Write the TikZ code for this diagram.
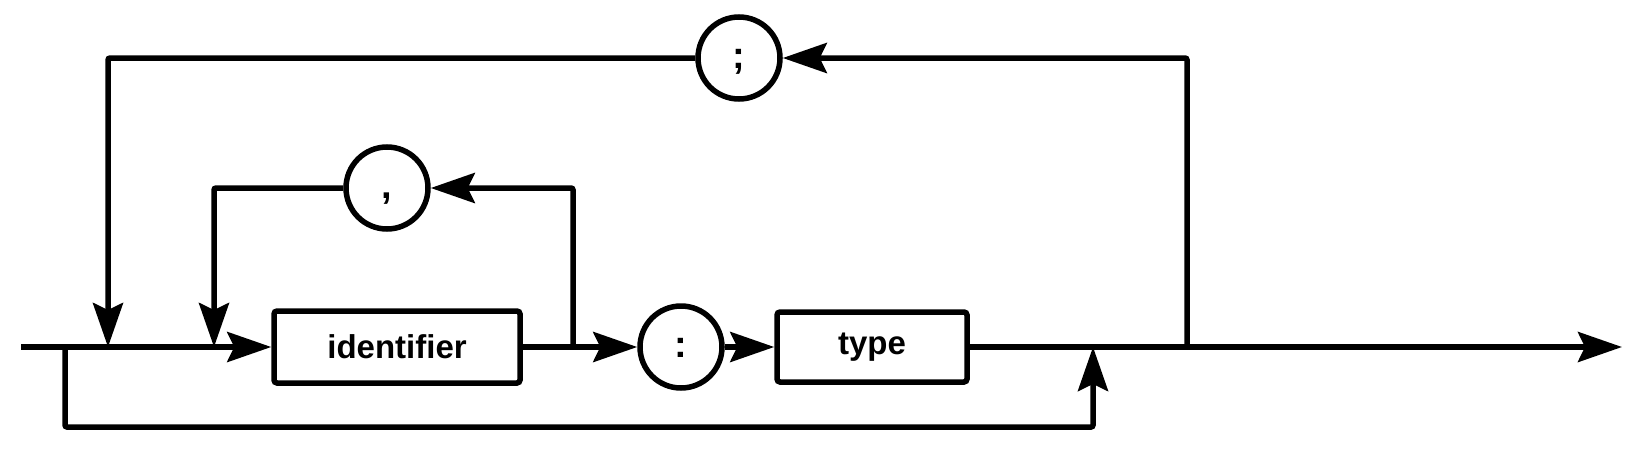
\documentclass[tikz,border=0pt]{standalone}
\usetikzlibrary{arrows.meta}
\usepackage{fontspec}
\setmainfont{Liberation Sans}
\begin{document}
\begin{tikzpicture}[x=1pt,y=-1pt,
  line width=5.5pt,
  arr/.style={-{Stealth[length=44pt,width=30pt,inset=7pt]}},
  boxnode/.style={draw,rounded corners=3pt,inner sep=0pt,font=\fontsize{33}{33}\selectfont\bfseries},
  circnode/.style={draw,circle,minimum size=82pt,inner sep=0pt,text height=20pt,text depth=0pt,font=\fontsize{38}{38}\selectfont\bfseries},
  lineseg/.style={rounded corners=2pt}]
\useasboundingbox (0,0) rectangle (1640,450);
\node[boxnode,minimum width=246pt,minimum height=72pt] (ident) at (397,347) {identifier};
\node[circnode] (colon) at (681,347) {:};
\node[boxnode,minimum width=190pt,minimum height=70pt] (type) at (872,347) {type};
\node[circnode] (comma) at (387,188) {,};
\node[circnode] (semi) at (739,58) {;};
\coordinate (start) at (21,347);
\coordinate (end) at (1622,347);
\coordinate (byA) at (65,347);
\coordinate (byB) at (65,427);
\coordinate (byC) at (1093,427);
\coordinate (byD) at (1093,347);
\coordinate (cmR) at (573,347);
\coordinate (cmRT) at (573,188);
\coordinate (cmLT) at (214,188);
\coordinate (cmL) at (214,347);
\coordinate (smR) at (1187,347);
\coordinate (smRT) at (1187,58);
\coordinate (smLT) at (108,58);
\coordinate (smL) at (108,347);
\draw[arr] (start) -- (ident.west);
\draw[arr] (ident.east) -- (colon.west);
\draw[arr] (colon.east) -- (type.west);
\draw[arr] (type.east) -- (end);
\draw[arr,lineseg] (cmR) -- (cmRT) -- (comma.east);
\draw[arr,lineseg] (comma.west) -- (cmLT) -- (cmL);
\draw[arr,lineseg] (smR) -- (smRT) -- (semi.east);
\draw[arr,lineseg] (semi.west) -- (smLT) -- (smL);
\draw[arr,lineseg] (byA) -- (byB) -- (byC) -- (byD);
\end{tikzpicture}
\end{document}
